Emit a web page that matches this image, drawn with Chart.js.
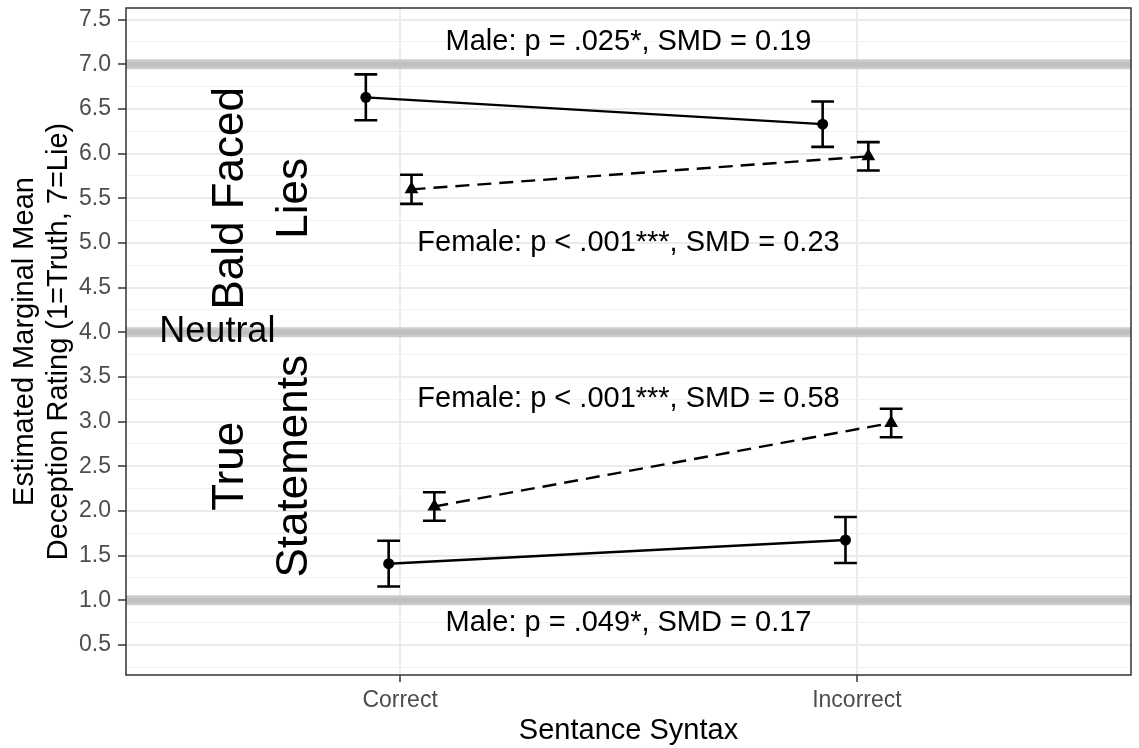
<!DOCTYPE html>
<html>
<head>
<meta charset="utf-8">
<script src="https://cdn.jsdelivr.net/npm/chart.js@4.4.1/dist/chart.umd.min.js"></script>
<style>
  body { margin: 0; background: #ffffff; }
  #wrap { width: 1139px; height: 748px; }
</style>
</head>
<body>
<div id="wrap"><canvas id="emmChart"></canvas></div>
<script>
// categories on the x axis and their positions
const categories = ['Correct', 'Incorrect'];
const categoryPos = [1, 2];

// estimated marginal means and error bar half-widths
const maleLieMean = [6.63, 6.33];
const maleLieErr = [0.257, 0.254];
const femaleLieMean = [5.60, 5.97];
const femaleLieErr = [0.163, 0.159];
const maleTrueMean = [1.41, 1.675];
const maleTrueErr = [0.256, 0.257];
const femaleTrueMean = [2.05, 2.985];
const femaleTrueErr = [0.16, 0.16];

// y tick labels and reference lines (truth / neutral / lie)
const yTickValues = [0.5, 1.0, 1.5, 2.0, 2.5, 3.0, 3.5, 4.0, 4.5, 5.0, 5.5, 6.0, 6.5, 7.0, 7.5];
const refLines = [1, 4, 7];

// significance notes
const noteTexts = ['Male: p = .025*, SMD = 0.19', 'Female: p < .001***, SMD = 0.23',
                   'Female: p < .001***, SMD = 0.58', 'Male: p = .049*, SMD = 0.17'];
const noteX = [1.5, 1.5, 1.5, 1.5];
const noteY = [7.25, 5.0, 3.25, 0.75];

// region labels
const regionLabels = [['Bald Faced', 'Lies'], ['Neutral'], ['True', 'Statements']];
const regionX = [0.7, 0.6, 0.7];
const regionY = [5.5, 4.0, 2.5];

const FONT = '"Liberation Sans", Arial, sans-serif';
Chart.defaults.font.family = FONT;

function makeSeries(label, means, errs, offset, style, dashed) {
    return {
        label: label,
        data: means.map((m, i) => ({ x: categoryPos[i] + offset, y: m, err: errs[i] })),
        borderColor: '#000000',
        backgroundColor: '#000000',
        borderWidth: 2.4,
        borderDash: dashed ? [14, 8] : [],
        pointStyle: style,
        pointRadius: style === 'triangle' ? 8 : 5.5,
        pointBorderWidth: 0,
        tension: 0,
        fill: false
    };
}

const isMajor = v => Math.abs(v * 2 - Math.round(v * 2)) < 1e-6;

const refLinePlugin = {
    id: 'refLines',
    beforeDatasetsDraw(chart) {
        const { ctx, chartArea, scales } = chart;
        ctx.save();
        refLines.forEach(v => {
            const py = scales.y.getPixelForValue(v);
            ctx.strokeStyle = '#cccccc';
            ctx.lineWidth = 10;
            ctx.beginPath();
            ctx.moveTo(chartArea.left, py);
            ctx.lineTo(chartArea.right, py);
            ctx.stroke();
            ctx.strokeStyle = '#c0c0c0';
            ctx.lineWidth = 5;
            ctx.beginPath();
            ctx.moveTo(chartArea.left, py);
            ctx.lineTo(chartArea.right, py);
            ctx.stroke();
        });
        ctx.restore();
    }
};

const errorBarPlugin = {
    id: 'errorBars',
    afterDatasetsDraw(chart) {
        const { ctx, scales } = chart;
        ctx.save();
        ctx.strokeStyle = '#000000';
        ctx.lineWidth = 2.6;
        chart.data.datasets.forEach(ds => {
            ds.data.forEach(p => {
                const px = scales.x.getPixelForValue(p.x);
                const half = scales.x.getPixelForValue(p.x + 0.025) - px;
                const top = scales.y.getPixelForValue(p.y + p.err);
                const bottom = scales.y.getPixelForValue(p.y - p.err);
                ctx.beginPath();
                ctx.moveTo(px, top);
                ctx.lineTo(px, bottom);
                ctx.moveTo(px - half, top);
                ctx.lineTo(px + half, top);
                ctx.moveTo(px - half, bottom);
                ctx.lineTo(px + half, bottom);
                ctx.stroke();
            });
        });
        ctx.restore();
    }
};

const textPlugin = {
    id: 'notes',
    afterDatasetsDraw(chart) {
        const { ctx, scales } = chart;
        ctx.save();
        ctx.fillStyle = '#000000';
        ctx.textAlign = 'center';
        ctx.textBaseline = 'middle';
        ctx.font = '29px ' + FONT;
        noteTexts.forEach((t, i) => {
            ctx.fillText(t, scales.x.getPixelForValue(noteX[i]), scales.y.getPixelForValue(noteY[i]));
        });
        regionLabels.forEach((lines, i) => {
            const px = scales.x.getPixelForValue(regionX[i]);
            const py = scales.y.getPixelForValue(regionY[i]);
            if (lines.length === 1) {
                ctx.font = '36px ' + FONT;
                ctx.fillText(lines[0], px, py);
                return;
            }
            ctx.font = '44px ' + FONT;
            ctx.save();
            ctx.translate(px, py);
            ctx.rotate(-Math.PI / 2);
            lines.forEach((l, j) => {
                ctx.fillText(l, 0, (j - (lines.length - 1) / 2) * 64);
            });
            ctx.restore();
        });
        ctx.restore();
    },
    afterDraw(chart) {
        const { ctx, chartArea } = chart;
        ctx.save();
        ctx.strokeStyle = '#333333';
        ctx.lineWidth = 1.5;
        ctx.strokeRect(chartArea.left, chartArea.top, chartArea.right - chartArea.left, chartArea.bottom - chartArea.top);
        ctx.restore();
    }
};

const ctx = document.getElementById('emmChart').getContext('2d');
new Chart(ctx, {
    type: 'line',
    data: {
        datasets: [
            makeSeries('Male, Lies', maleLieMean, maleLieErr, -0.075, 'circle', false),
            makeSeries('Female, Lies', femaleLieMean, femaleLieErr, 0.025, 'triangle', true),
            makeSeries('Male, True', maleTrueMean, maleTrueErr, -0.025, 'circle', false),
            makeSeries('Female, True', femaleTrueMean, femaleTrueErr, 0.075, 'triangle', true)
        ]
    },
    options: {
        responsive: true,
        maintainAspectRatio: false,
        animation: false,
        layout: { padding: { top: 8, right: 5, left: 0, bottom: 0 } },
        plugins: {
            legend: { display: false },
            tooltip: { enabled: false }
        },
        scales: {
            x: {
                type: 'linear',
                min: 0.4,
                max: 2.6,
                afterBuildTicks: axis => { axis.ticks = categoryPos.map(v => ({ value: v })); },
                afterFit: axis => { axis.height = 73; axis.paddingLeft = 0; axis.paddingRight = 0; },
                border: { display: false },
                grid: { color: '#ebebeb', lineWidth: 2, tickLength: 7, tickColor: '#333333', tickWidth: 1.5 },
                ticks: {
                    autoSkip: false,
                    maxRotation: 0,
                    padding: 5,
                    color: '#4d4d4d',
                    font: { size: 23 },
                    callback: v => categories[categoryPos.indexOf(v)] ?? ''
                },
                title: {
                    display: true,
                    text: 'Sentance Syntax',
                    color: '#000000',
                    font: { size: 29, lineHeight: 34 / 29 },
                    padding: { top: 0, bottom: 0 }
                }
            },
            y: {
                type: 'linear',
                min: 0.164,
                max: 7.63,
                afterBuildTicks: axis => {
                    const t = [];
                    yTickValues.forEach(v => { t.push({ value: v - 0.25 }); t.push({ value: v }); });
                    axis.ticks = t.filter(o => o.value >= axis.min && o.value <= axis.max);
                },
                afterFit: axis => { axis.width = 126; axis.paddingTop = 0; axis.paddingBottom = 0; },
                border: { display: false },
                grid: {
                    color: c => isMajor(c.tick.value) ? '#ebebeb' : '#f1f1f1',
                    lineWidth: c => isMajor(c.tick.value) ? 2 : 1,
                    tickLength: 8,
                    tickColor: c => isMajor(c.tick.value) ? '#333333' : 'rgba(0,0,0,0)',
                    tickWidth: 1.5
                },
                ticks: {
                    autoSkip: false,
                    padding: 7,
                    color: '#4d4d4d',
                    font: { size: 23 },
                    callback: v => isMajor(v) ? v.toFixed(1) : ''
                },
                title: {
                    display: true,
                    text: ['Estimated Marginal Mean', 'Deception Rating (1=Truth, 7=Lie)'],
                    color: '#000000',
                    font: { size: 29, lineHeight: 34 / 29 },
                    padding: { top: 8, bottom: 0 }
                }
            }
        }
    },
    plugins: [refLinePlugin, errorBarPlugin, textPlugin]
});
</script>
</body>
</html>
